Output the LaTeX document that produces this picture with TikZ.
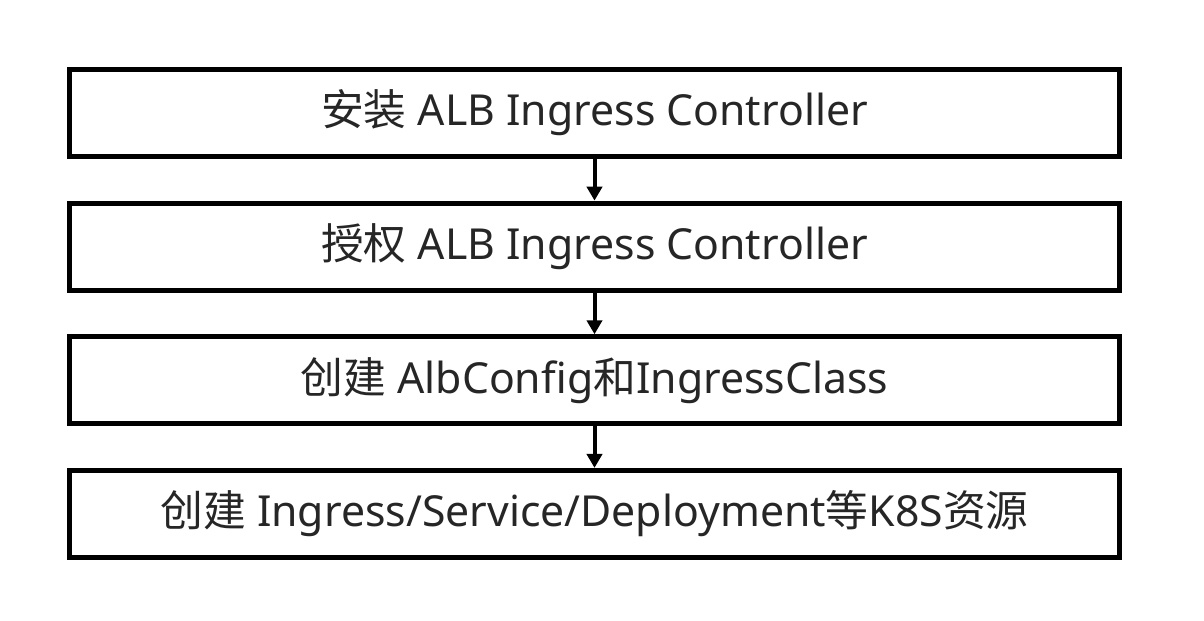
\documentclass[tikz,border=0pt]{standalone}
\usepackage{fontspec}
\setmainfont{Noto Sans}
\newfontfamily\cjk{Noto Sans CJK SC}
\usetikzlibrary{positioning, arrows.meta}

\begin{document}
\begin{tikzpicture}[x=0.025cm, y=0.025cm,
        stepbox/.style={draw=black, line width=0.125cm, minimum width=26.25cm, minimum height=2.175cm, inner sep=0pt, font=\fontsize{30.4}{36}\selectfont, text=black!85},
        flow/.style={line width=0.1cm, -{Triangle[width=0.38cm, length=0.35cm]}}]
        % Define dimensions
        \def\picwidth{1204}
        \def\picheight{620}
        \useasboundingbox (0,0) rectangle (\picwidth,\picheight);
        % Steps from top to bottom
        \node[stepbox] (install) at (594.5,507) {{\cjk 安装} ALB Ingress Controller};
        \node[stepbox, below=1.04cm of install] (grant) {{\cjk 授权} ALB Ingress Controller};
        \node[stepbox, below=1.04cm of grant] (config) {{\cjk 创建} AlbConfig{\cjk 和}IngressClass};
        \node[stepbox, below=1.04cm of config] (deploy) {{\cjk 创建} Ingress/Service/Deployment{\cjk 等}K8S{\cjk 资源}};
        % Arrows between steps
        \draw[flow] (install) -- (grant);
        \draw[flow] (grant) -- (config);
        \draw[flow] (config) -- (deploy);
    \end{tikzpicture}
\end{document}
